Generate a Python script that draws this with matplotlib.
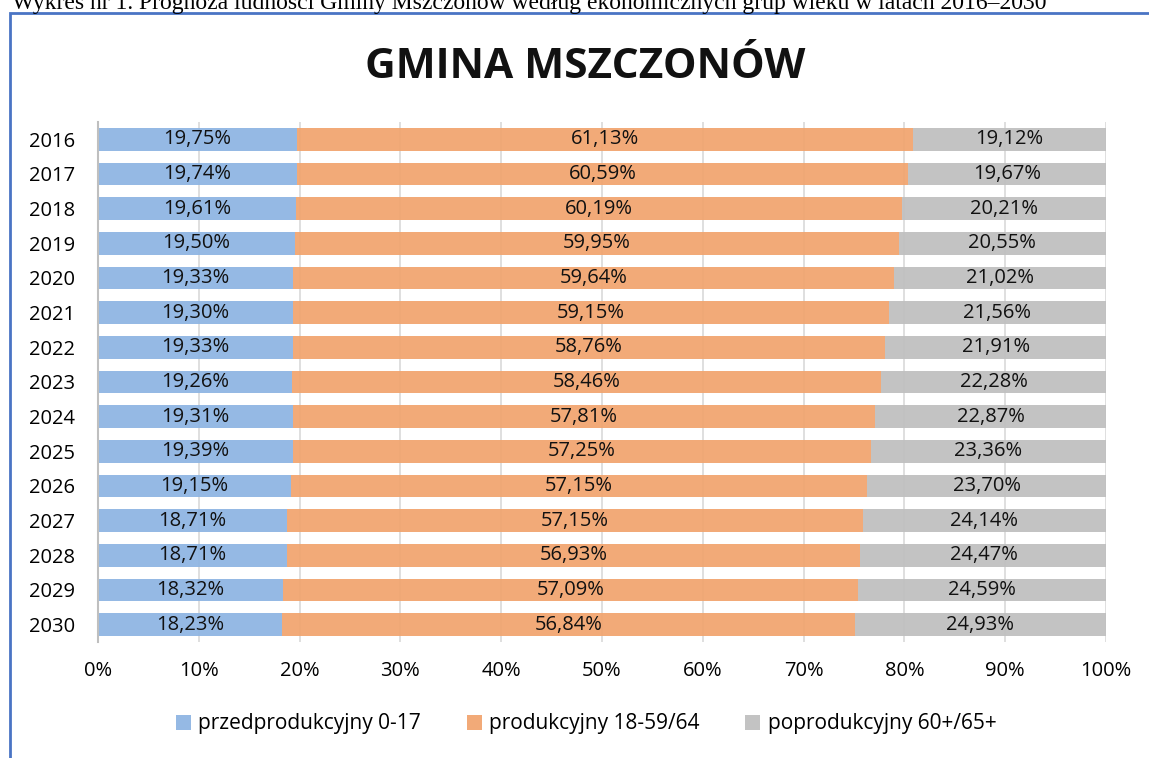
import numpy as np
import matplotlib.pyplot as plt
from matplotlib.patches import Rectangle

# ------------------------
# DATA
# ------------------------

years = ["2016", "2017", "2018", "2019", "2020", "2021", "2022", "2023",
         "2024", "2025", "2026", "2027", "2028", "2029", "2030"]

przedprodukcyjny = [19.75, 19.74, 19.61, 19.50, 19.33, 19.30, 19.33, 19.26,
                    19.31, 19.39, 19.15, 18.71, 18.71, 18.32, 18.23]
produkcyjny = [61.13, 60.59, 60.19, 59.95, 59.64, 59.15, 58.76, 58.46,
               57.81, 57.25, 57.15, 57.15, 56.93, 57.09, 56.84]
poprodukcyjny = [19.12, 19.67, 20.21, 20.55, 21.02, 21.56, 21.91, 22.28,
                 22.87, 23.36, 23.70, 24.14, 24.47, 24.59, 24.93]

series_names = ["przedprodukcyjny 0-17", "produkcyjny 18-59/64", "poprodukcyjny 60+/65+"]
series_colors = ["#8DB4E2", "#F1A46E", "#BFBFBF"]

x_ticks = [0, 10, 20, 30, 40, 50, 60, 70, 80, 90, 100]

# ------------------------
# FIGURE
# ------------------------

plt.rcParams['font.family'] = ['Open Sans', 'DejaVu Sans']

fig = plt.figure(figsize=(11.49, 7.58), dpi=100)

# caption above the frame (its top is cut off in the reference too)
fig.text(12 / 1149, 1 - 9 / 758,
         "Wykres nr 1. Prognoza ludności Gminy Mszczonów według ekonomicznych grup wieku w latach 2016–2030",
         family="Liberation Serif", fontsize=17, va="baseline", ha="left")

# blue frame around the chart
frame = Rectangle((9.5 / 1149, -0.1), 1.2, 1 - 12.5 / 758 + 0.1,
                  transform=fig.transFigure, fill=False,
                  edgecolor="#4A74C4", linewidth=2)
fig.add_artist(frame)

fig.text(0.509, 1 - 68 / 758, "GMINA MSZCZONÓW", fontsize=30.5,
         fontweight="bold", ha="center", va="center", color="#111111")

ax = fig.add_axes([98 / 1149, 1 - 642 / 758, (1106 - 98) / 1149, (642 - 122) / 758])

y = np.arange(len(years))
left = np.zeros(len(years))
all_series = [przedprodukcyjny, produkcyjny, poprodukcyjny]

for values, name, color in zip(all_series, series_names, series_colors):
    values = np.array(values)
    ax.barh(y, values, left=left, height=0.66, color=color, label=name,
            alpha=0.93, zorder=2)
    for yi, (l, v) in enumerate(zip(left, values)):
        label = f"{v:.2f}%".replace(".", ",")
        ax.text(l + v / 2, yi, label, ha="center", va="center",
                fontsize=14.5, color="#111111", zorder=3)
    left = left + values

ax.set_xlim(0, 100)
ax.set_ylim(len(years) - 0.5, -0.5)

ax.set_yticks(y)
ax.set_yticklabels(years, fontsize=14.5)
ax.set_xticks(x_ticks)
ax.set_xticklabels([f"{t}%" for t in x_ticks], fontsize=14.5)

ax.grid(axis="x", color="#D9D9D9", linewidth=1.2, zorder=1)
ax.set_axisbelow(True)
ax.tick_params(axis="y", length=0, pad=16.5)
ax.tick_params(axis="x", length=0, pad=14)

for side in ["top", "right", "bottom"]:
    ax.spines[side].set_visible(False)
ax.spines["left"].set_color("#BFBFBF")
ax.spines["left"].set_linewidth(1.5)
ax.spines["left"].set_zorder(4)

fig.legend(loc="center", bbox_to_anchor=(0.51, 1 - 724 / 758), ncol=3,
           frameon=False, fontsize=15, handlelength=0.72, handleheight=0.72,
           handletextpad=0.35, columnspacing=2.2)

fig.savefig("out.png", dpi=100)
